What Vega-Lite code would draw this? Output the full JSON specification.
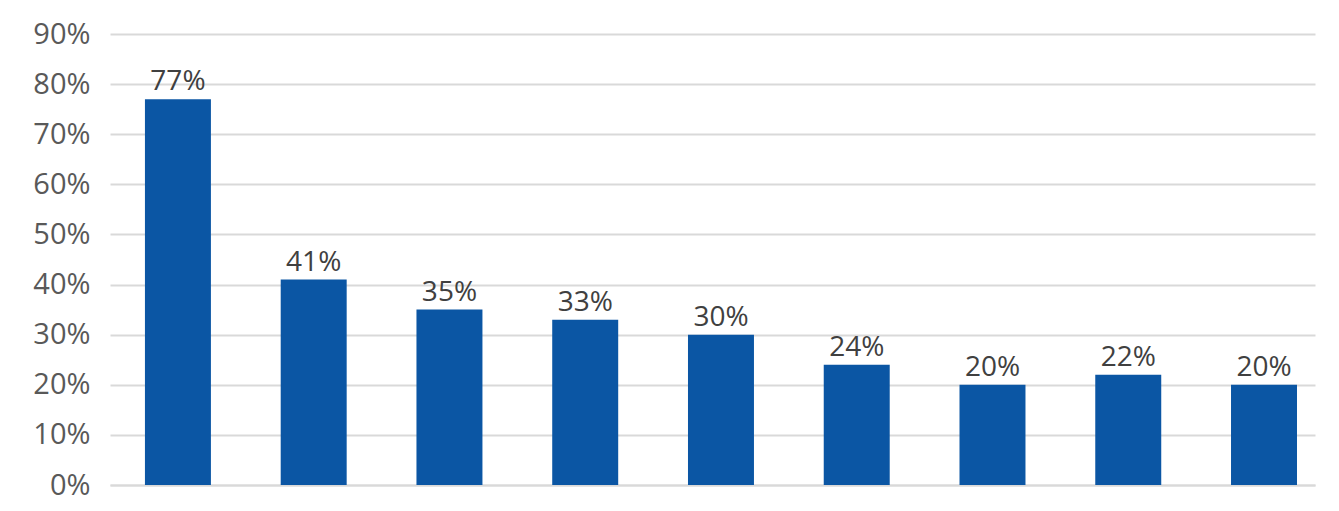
{
  "$schema": "https://vega.github.io/schema/vega-lite/v6.json",
  "width": 1205,
  "height": 451,
  "autosize": "none",
  "padding": {"left": 110, "top": 34, "right": 24, "bottom": 26},
  "background": "white",
  "config": {"view": {"stroke": null}},
  "data": {
    "values": [
      {"cat": "1", "share": 0.77},
      {"cat": "2", "share": 0.41},
      {"cat": "3", "share": 0.35},
      {"cat": "4", "share": 0.33},
      {"cat": "5", "share": 0.30},
      {"cat": "6", "share": 0.24},
      {"cat": "7", "share": 0.20},
      {"cat": "8", "share": 0.22},
      {"cat": "9", "share": 0.20}
    ]
  },
  "encoding": {
    "x": {
      "field": "cat",
      "type": "nominal",
      "sort": null,
      "title": null,
      "scale": {"paddingInner": 0.514, "paddingOuter": 0.195, "align": 0.66},
      "axis": {"labels": false, "ticks": false, "domainColor": "#d9d9d9", "domainWidth": 2}
    },
    "y": {
      "field": "share",
      "type": "quantitative",
      "title": null,
      "scale": {"domain": [0, 0.9]},
      "axis": {
        "format": ".0%",
        "values": [0, 0.1, 0.2, 0.3, 0.4, 0.5, 0.6, 0.7, 0.8, 0.9],
        "labelOverlap": false,
        "domain": false,
        "ticks": false,
        "gridColor": "#d9d9d9",
        "gridWidth": 2,
        "labelFont": "Open Sans",
        "labelFontSize": 29,
        "labelColor": "#595959",
        "labelPadding": 20
      }
    }
  },
  "layer": [
    {"mark": {"type": "bar", "color": "#0B56A4"}},
    {
      "mark": {"type": "text", "baseline": "alphabetic", "dy": -9, "font": "Open Sans", "fontSize": 28, "color": "#404040"},
      "encoding": {"text": {"field": "share", "type": "quantitative", "format": ".0%"}}
    }
  ]
}
